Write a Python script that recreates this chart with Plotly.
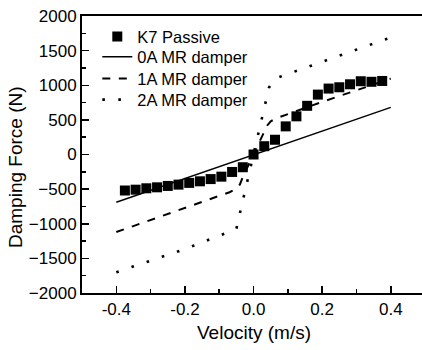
import plotly.graph_objects as go

# K7 passive damper measurements
velocity_k7 = [-0.375, -0.34375, -0.3125, -0.28125, -0.25, -0.21875, -0.1875, -0.15625,
               -0.125, -0.09375, -0.0625, -0.03125, 0.0, 0.03125, 0.0625, 0.09375,
               0.125, 0.15625, 0.1875, 0.21875, 0.25, 0.28125, 0.3125, 0.34375, 0.375]
force_k7 = [-520, -508, -488, -474, -454, -435, -410, -387,
            -355, -320, -252, -184, 0, 120, 213, 406,
            551, 703, 865, 952, 971, 1014, 1058, 1050, 1062]

# 0A MR damper
velocity_0a = [-0.4, -0.2, 0.0, 0.2, 0.4]
force_0a = [-690, -345, 0, 340, 680]

# 1A MR damper
velocity_1a = [-0.4, -0.2, -0.07, -0.05, -0.04, -0.03, 0.0, 0.03, 0.04, 0.05, 0.07, 0.2, 0.4]
force_1a = [-1120, -770, -545, -495, -435, -310, 0, 310, 420, 480, 530, 760, 1095]

# 2A MR damper
velocity_2a = [-0.4, -0.2, -0.06, -0.05, -0.045, 0.0, 0.045, 0.055, 0.07, 0.4]
force_2a = [-1700, -1365, -1095, -1075, -960, 0, 965, 1050, 1110, 1690]

names = ["K7 Passive", "0A MR damper", "1A MR damper", "2A MR damper"]
x_ticks = [-0.4, -0.2, 0.0, 0.2, 0.4]
x_ticktext = ["-0.4", "-0.2", "0.0", "0.2", "0.4"]
y_ticks = [-2000, -1500, -1000, -500, 0, 500, 1000, 1500, 2000]

FONT = "Arial, Liberation Sans, sans-serif"

fig = go.Figure()
fig.add_trace(go.Scatter(x=velocity_k7, y=force_k7, mode="markers", name=names[0],
                         legend="legend",
                         marker=dict(symbol="square", size=10, color="black",
                                     line=dict(width=0))))
fig.add_trace(go.Scatter(x=velocity_0a, y=force_0a, mode="lines", name=names[1],
                         legend="legend2",
                         line=dict(color="black", width=1.4)))
fig.add_trace(go.Scatter(x=velocity_1a, y=force_1a, mode="lines", name=names[2],
                         legend="legend3",
                         line=dict(color="black", width=2, dash="8px,8.5px")))
fig.add_trace(go.Scatter(x=velocity_2a, y=force_2a, mode="lines", name=names[3],
                         legend="legend4",
                         line=dict(color="black", width=2.6, dash="2.6px,13.4px")))

leg_common = dict(x=0.045, xanchor="left", yanchor="middle",
                  bgcolor="rgba(0,0,0,0)", font=dict(size=16.5, family=FONT))
fig.update_layout(
    width=422, height=350,
    margin=dict(l=82, r=0, t=16, b=57, autoexpand=False),
    paper_bgcolor="white", plot_bgcolor="white",
    font=dict(family=FONT, size=17, color="black"),
    showlegend=True,
    legend=dict(y=0.925, **leg_common),
    legend2=dict(y=0.852, **leg_common),
    legend3=dict(y=0.773, **leg_common),
    legend4=dict(y=0.697, **leg_common),
    annotations=[
        dict(text="Velocity (m/s)", xref="paper", yref="paper", x=0.506, y=-0.141,
             xanchor="center", yanchor="middle", showarrow=False,
             font=dict(size=19, family=FONT)),
        dict(text="Damping Force (N)", xref="paper", yref="paper", x=-0.194, y=0.455,
             xanchor="center", yanchor="middle", showarrow=False, textangle=-90,
             font=dict(size=19, family=FONT)),
    ],
)
fig.update_xaxes(
    range=[-0.5, 0.491], tickvals=x_ticks, ticktext=x_ticktext,
    ticks="inside", ticklen=7, tickwidth=1.5, tickcolor="black",
    minor=dict(tickvals=[-0.5, -0.3, -0.1, 0.1, 0.3], ticks="inside", ticklen=4,
               tickwidth=1.5, tickcolor="black"),
    showline=True, linewidth=2, linecolor="black", mirror=True,
    showgrid=False, zeroline=False, automargin=False,
    tickfont=dict(size=17, family=FONT),
)
fig.update_yaxes(
    range=[-2000, 2000], tickvals=y_ticks,
    ticks="inside", ticklen=7, tickwidth=1.5, tickcolor="black",
    minor=dict(tickvals=[-1750, -1250, -750, -250, 250, 750, 1250, 1750], ticks="inside",
               ticklen=4, tickwidth=1.5, tickcolor="black"),
    showline=True, linewidth=2, linecolor="black", mirror=False,
    showgrid=False, zeroline=False, automargin=False,
    tickfont=dict(size=17, family=FONT),
)

# remove the browser's default 8px body margin so the figure fills the window
fig.write_html("out.html",
               config={"displayModeBar": False, "staticPlot": True},
               post_script="document.body.style.margin='0';document.body.style.overflow='hidden';")
